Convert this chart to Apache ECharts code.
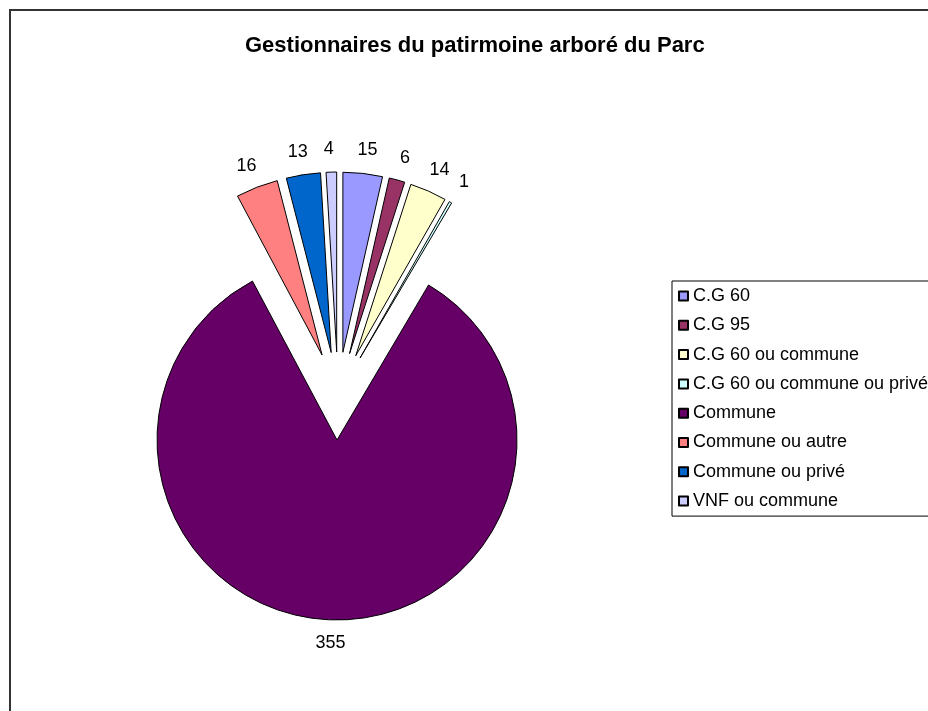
<!DOCTYPE html>
<html>
<head>
<meta charset="utf-8">
<style>
html, body { margin: 0; padding: 0; background: #fff; }
#chart { width: 928px; height: 711px; }
</style>
<script src="https://cdn.jsdelivr.net/npm/echarts@6/dist/echarts.min.js"></script>
</head>
<body>
<div id="chart"></div>
<script>
const categories = ['C.G 60', 'C.G 95', 'C.G 60 ou commune', 'C.G 60 ou commune ou privé', 'Commune', 'Commune ou autre', 'Commune ou privé', 'VNF ou commune'];
const values = [15, 6, 14, 1, 355, 16, 13, 4];
const colors = ['#9999FF', '#993366', '#FFFFCC', '#CCFFFF', '#660066', '#FF8080', '#0066CC', '#CCCCFF'];

const chart = echarts.init(document.getElementById('chart'));
chart.setOption({
    animation: false,
    color: colors,
    textStyle: { fontFamily: 'Liberation Sans, Arial, sans-serif' },
    // cadre du graphique
    graphic: [{
        type: 'rect',
        shape: { x: 10, y: 10, width: 1000, height: 1000 },
        style: { fill: 'none', stroke: '#333', lineWidth: 2 },
        z: -1
    }],
    title: {
        text: 'Gestionnaires du patirmoine arboré du Parc',
        left: 240,
        top: 30,
        textStyle: { color: '#000', fontSize: 22, fontWeight: 'bold' }
    },
    legend: {
        orient: 'vertical',
        left: 672,
        top: 281,
        padding: [6, 200, 6, 6],
        borderColor: '#000',
        borderWidth: 1,
        itemWidth: 9,
        itemHeight: 9,
        itemGap: 11.3,
        icon: 'rect',
        textStyle: { color: '#000', fontSize: 18 },
        data: categories
    },
    series: [{
        type: 'pie',
        center: [338, 396],
        radius: 180,
        startAngle: 90,
        selectedMode: 'multiple',
        selectedOffset: 44,
        avoidLabelOverlap: false,
        itemStyle: { borderColor: '#000', borderWidth: 1 },
        label: {
            show: true,
            position: 'outside',
            formatter: '{c}',
            color: '#000',
            fontSize: 18,
            distanceToLabelLine: 2
        },
        labelLine: { show: false, length: 23, length2: 0 },
        labelLayout: { align: 'center' },
        emphasis: { disabled: true },
        data: categories.map((name, i) => ({ name: name, value: values[i], selected: true }))
    }]
});
</script>
</body>
</html>
